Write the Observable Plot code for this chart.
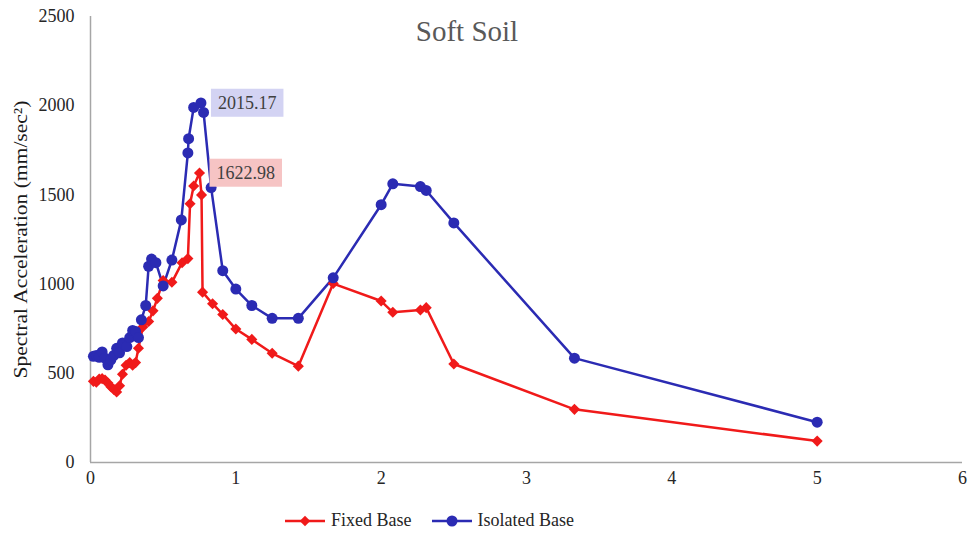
<!DOCTYPE html>
<html>
<head>
<meta charset="utf-8">
<script src="https://cdn.jsdelivr.net/npm/d3@7"></script>
<script src="https://cdn.jsdelivr.net/npm/@observablehq/plot@0.6"></script>
<style>
  body { margin: 0; background: #fff; }
  #wrap { position: relative; width: 977px; height: 538px; font-family: "Liberation Serif", "Times New Roman", serif; }
  #chart svg, #chart svg text { font-family: "Liberation Serif", "Times New Roman", serif !important; }
  #title { position: absolute; left: 0; width: 934px; top: 13px; text-align: center; font-size: 29px; line-height: 36px; color: #595959; }
  #legend { position: absolute; left: 285px; top: 510px; display: flex; align-items: center; font-size: 18px; color: #262626; }
  #legend .item { display: flex; align-items: center; margin-right: 20px; }
  #legend svg { margin-right: 6px; }
</style>
</head>
<body>
<div id="wrap">
  <div id="chart"></div>
  <div id="title">Soft Soil</div>
  <div id="legend"></div>
</div>
<script>
// ---- data ----
const seriesNames = ["Fixed Base", "Isolated Base"];
const seriesColors = ["#f01a1a", "#2b2bb3"];
const labelFills = ["#f6c4c4", "#d3d3f3"];

const periodFixed = [0.02, 0.04, 0.06, 0.08, 0.10, 0.12, 0.14, 0.16, 0.18, 0.20, 0.22, 0.245, 0.27, 0.29, 0.31, 0.33, 0.36, 0.40, 0.43, 0.46, 0.50, 0.56, 0.63, 0.67, 0.685, 0.71, 0.75, 0.764, 0.771, 0.84, 0.91, 1.00, 1.11, 1.25, 1.43, 1.67, 2.00, 2.08, 2.27, 2.31, 2.50, 3.33, 5.00];
const accelFixed  = [455, 450, 468, 470, 462, 445, 425, 410, 395, 430, 495, 545, 560, 545, 560, 640, 760, 790, 850, 920, 1020, 1010, 1120, 1143, 1450, 1550, 1622.98, 1500, 955, 890, 830, 748, 690, 612, 540, 1003, 905, 842, 855, 868, 552, 298, 120];

const periodIsolated = [0.02, 0.04, 0.06, 0.08, 0.10, 0.12, 0.14, 0.16, 0.18, 0.20, 0.22, 0.25, 0.27, 0.29, 0.31, 0.33, 0.35, 0.38, 0.40, 0.42, 0.45, 0.50, 0.56, 0.625, 0.67, 0.675, 0.71, 0.76, 0.778, 0.83, 0.91, 1.00, 1.11, 1.25, 1.43, 1.67, 2.00, 2.08, 2.27, 2.31, 2.50, 3.33, 5.00];
const accelIsolated  = [595, 600, 590, 620, 585, 548, 575, 600, 640, 615, 670, 650, 700, 740, 735, 700, 800, 880, 1100, 1140, 1120, 990, 1135, 1360, 1735, 1815, 1990, 2015.17, 1962, 1541, 1075, 972, 880, 808, 808, 1035, 1445, 1562, 1547, 1525, 1343, 585, 226];

const xTicks = [0, 1, 2, 3, 4, 5, 6];
const yTicks = [0, 500, 1000, 1500, 2000, 2500];
const yLabel = "Spectral Acceleration (mm/sec²)";

// ---- tables ----
const fixed = periodFixed.map((t, i) => ({ series: seriesNames[0], t, a: accelFixed[i] }));
const isolated = periodIsolated.map((t, i) => ({ series: seriesNames[1], t, a: accelIsolated[i] }));
const all = fixed.concat(isolated);
const peaks = [fixed, isolated].map(s => s.reduce((m, d) => d.a > m.a ? d : m));
const peakText = d => d.a.toFixed(2);

const font = '"Liberation Serif", "Times New Roman", serif';

const chart = Plot.plot({
  width: 977,
  height: 500,
  marginLeft: 90,
  marginRight: 15,
  marginTop: 16,
  marginBottom: 38,
  style: { fontFamily: font, background: "#fff", color: "#262626" },
  x: { domain: [0, 6] },
  y: { domain: [0, 2500] },
  color: { domain: seriesNames, range: seriesColors },
  marks: [
    Plot.axisX({ ticks: xTicks, tickFormat: d => String(d), tickSize: 0, tickPadding: 9, fontSize: 18, label: null, fill: "#262626" }),
    Plot.axisY({ ticks: yTicks, tickFormat: d => String(d), tickSize: 0, tickPadding: 16, fontSize: 18, label: null, fill: "#262626" }),
    Plot.text([yLabel], { frameAnchor: "left", rotate: -90, dx: -70, textAnchor: "middle", fontSize: 19, fill: "#1a1a1a" }),
    Plot.ruleY([0], { stroke: "#a6a6a6", strokeWidth: 1.5 }),
    Plot.ruleX([0], { stroke: "#a6a6a6", strokeWidth: 1.5 }),
    Plot.line(all, { x: "t", y: "a", z: "series", stroke: "series", strokeWidth: 2.5 }),
    Plot.dot(fixed, { x: "t", y: "a", symbol: "diamond2", r: 5, fill: seriesColors[0], stroke: null }),
    Plot.dot(isolated, { x: "t", y: "a", r: 5.5, fill: seriesColors[1], stroke: null }),
    Plot.text(peaks, { x: "t", y: "a", text: peakText, dx: 17, textAnchor: "start", fontSize: 18, fill: "#404040" })
  ]
});
document.getElementById("chart").appendChild(chart);

chart.querySelectorAll("text").forEach(txt => {
  // stretch the axis title to the length it has in the reference
  if (txt.textContent === yLabel) {
    txt.setAttribute("textLength", 278);
    txt.setAttribute("lengthAdjust", "spacingAndGlyphs");
  }
});

// background boxes behind the peak labels
const wanted = peaks.map(peakText);
chart.querySelectorAll("text").forEach(txt => {
  const k = wanted.indexOf(txt.textContent);
  if (k < 0) return;
  const bb = txt.getBBox();
  const rect = document.createElementNS("http://www.w3.org/2000/svg", "rect");
  rect.setAttribute("x", bb.x - 7);
  rect.setAttribute("y", bb.y - 4);
  rect.setAttribute("width", bb.width + 14);
  rect.setAttribute("height", bb.height + 8);
  rect.setAttribute("fill", labelFills[seriesNames.indexOf(peaks[k].series)]);
  if (txt.getAttribute("transform")) rect.setAttribute("transform", txt.getAttribute("transform"));
  txt.parentNode.insertBefore(rect, txt);
});

// legend
const legend = d3.select("#legend");
seriesNames.forEach((name, i) => {
  const item = legend.append("span").attr("class", "item");
  const svg = item.append("svg").attr("width", 40).attr("height", 14);
  svg.append("line").attr("x1", 0).attr("x2", 40).attr("y1", 7).attr("y2", 7)
     .attr("stroke", seriesColors[i]).attr("stroke-width", 2.5);
  if (i === 0) {
    svg.append("path").attr("d", d3.symbol(d3.symbolDiamond2, 70)()).attr("transform", "translate(20,7)").attr("fill", seriesColors[i]);
  } else {
    svg.append("circle").attr("cx", 20).attr("cy", 7).attr("r", 5.5).attr("fill", seriesColors[i]);
  }
  item.append("span").text(name);
});
</script>
</body>
</html>
